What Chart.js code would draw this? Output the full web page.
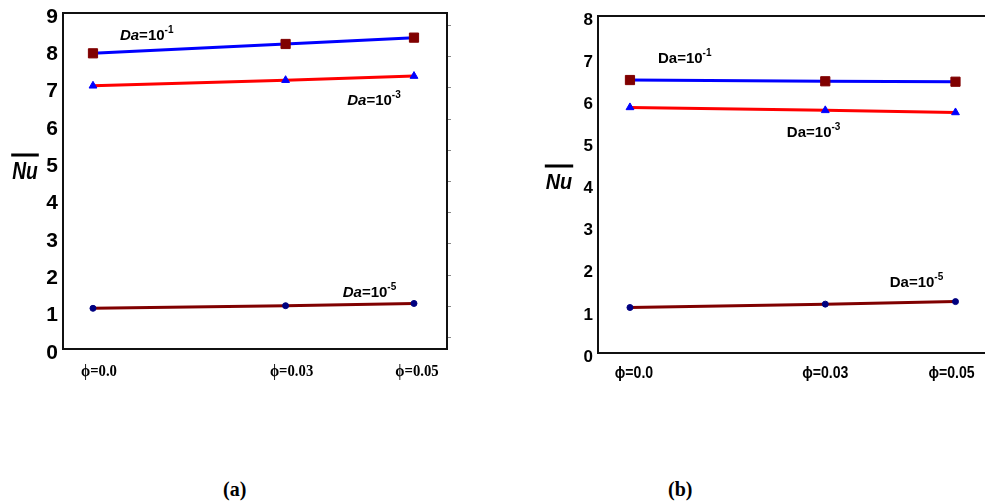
<!DOCTYPE html>
<html>
<head>
<meta charset="utf-8">
<script src="https://cdn.jsdelivr.net/npm/chart.js@4.4.1/dist/chart.umd.min.js"></script>
<style>
  html, body { margin: 0; padding: 0; background: #fff; overflow: hidden; width: 985px; height: 504px; }
  .panel { position: absolute; top: -10px; }
  .cap { position: absolute; top: 478px; font: bold 20px "Liberation Serif", "Times New Roman", serif; color: #000; }
</style>
</head>
<body>
<canvas id="chartA" class="panel" width="470" height="410" style="left:0px"></canvas>
<canvas id="chartB" class="panel" width="510" height="410" style="left:520px"></canvas>
<div class="cap" style="left:223px">(a)</div>
<div class="cap" style="left:668px">(b)</div>
<script>
// Nanofluid volume fraction on the x axis
const phi = [0, 0.03, 0.05];
const phiLabels = ['\u03D5=0.0', '\u03D5=0.03', '\u03D5=0.05'];

// Panel (a): average Nusselt number
const nuA_Da1 = [7.92, 8.17, 8.34];
const nuA_Da3 = [7.05, 7.20, 7.31];
const nuA_Da5 = [1.09, 1.16, 1.22];

// Panel (b): average Nusselt number
const nuB_Da1 = [6.48, 6.45, 6.44];
const nuB_Da3 = [5.83, 5.76, 5.71];
const nuB_Da5 = [1.08, 1.16, 1.22];

// Darcy number exponents for the curve labels
const daExp = ['-1', '-3', '-5'];

Chart.defaults.animation = false;
Chart.defaults.color = '#000';

function pts(ys) { return phi.map((x, i) => ({ x: x, y: ys[i] })); }

function series(ys, lineColor, pointColor, style, radius) {
  return {
    data: pts(ys),
    borderColor: lineColor,
    borderWidth: 3,
    pointStyle: style,
    pointRadius: radius,
    pointBackgroundColor: pointColor,
    pointBorderColor: pointColor,
    pointBorderWidth: 1,
    tension: 0
  };
}

// frame, condensed phi tick labels, curve labels and the axis title
function decorations(opts) {
  return {
    id: 'decor',
    afterDraw(chart) {
      const ctx = chart.ctx, a = chart.chartArea;
      const xs = chart.scales.x, ys = chart.scales.y;
      ctx.save();

      // faint minor ticks just outside the right edge of the frame
      if (opts.rightTicks) {
        const h = a.bottom - a.top;
        ctx.strokeStyle = '#888';
        ctx.lineWidth = 1;
        ctx.beginPath();
        for (let k = 0; k < 11; k++) {
          const y = Math.round(a.top + h * (0.0357 + k * 0.0929)) + 0.5;
          ctx.moveTo(a.right, y);
          ctx.lineTo(a.right + 4, y);
        }
        ctx.stroke();
      }

      ctx.strokeStyle = '#111';
      ctx.lineWidth = 2;
      ctx.beginPath();
      ctx.rect(a.left, a.top, a.right - a.left, a.bottom - a.top);
      ctx.stroke();

      // phi tick labels
      ctx.fillStyle = '#000';
      ctx.font = opts.phiFont;
      ctx.textAlign = 'center';
      ctx.textBaseline = 'middle';
      phi.forEach((v, i) => {
        ctx.save();
        ctx.translate(xs.getPixelForValue(v) + opts.phiShift[i], a.bottom + opts.phiGap);
        ctx.scale(opts.phiSqueeze, 1);
        ctx.fillText(phiLabels[i], 0, 0);
        ctx.restore();
      });

      // Da = 10^n labels
      ctx.textAlign = 'left';
      ctx.textBaseline = 'alphabetic';
      opts.notes.forEach((n, i) => {
        let px = xs.getPixelForValue(n.x);
        const py = ys.getPixelForValue(n.y) + 5;
        ctx.font = (opts.italicDa ? 'italic ' : '') + 'bold 15px "Liberation Sans", Arial, sans-serif';
        ctx.fillText('Da', px, py);
        px += ctx.measureText('Da').width;
        ctx.font = 'bold 15px "Liberation Sans", Arial, sans-serif';
        ctx.fillText('=10', px, py);
        px += ctx.measureText('=10').width;
        ctx.font = 'bold 10px "Liberation Sans", Arial, sans-serif';
        ctx.fillText(daExp[i], px, py - 7);
      });

      // overbarred Nu axis title, slightly condensed
      ctx.font = opts.nuFont;
      ctx.textAlign = 'center';
      ctx.textBaseline = 'middle';
      const w = ctx.measureText('Nu').width * opts.nuSqueeze;
      ctx.save();
      ctx.translate(opts.nuX, opts.nuY);
      ctx.scale(opts.nuSqueeze, 1);
      ctx.fillText('Nu', 0, 0);
      ctx.restore();
      ctx.lineWidth = 3;
      ctx.strokeStyle = '#000';
      ctx.beginPath();
      ctx.moveTo(opts.nuX - w / 2 - 1, opts.nuY - opts.barGap);
      ctx.lineTo(opts.nuX + w / 2 + 1, opts.nuY - opts.barGap);
      ctx.stroke();
      ctx.restore();
    }
  };
}

function makeChart(id, sets, cfg) {
  return new Chart(document.getElementById(id), {
    type: 'line',
    data: { datasets: sets },
    options: {
      responsive: false,
      devicePixelRatio: 1,
      layout: { padding: cfg.padding },
      plugins: { legend: { display: false }, tooltip: { enabled: false } },
      scales: {
        x: {
          type: 'linear',
          min: cfg.xMin, max: cfg.xMax,
          grid: { display: false, drawTicks: false },
          border: { display: false },
          afterBuildTicks: s => { s.ticks = phi.map(v => ({ value: v })); },
          afterFit: s => { s.height = cfg.xHeight; },
          ticks: { display: false }
        },
        y: {
          min: 0, max: cfg.yMax,
          grid: { display: false, drawTicks: false },
          border: { display: false },
          afterFit: s => { s.width = cfg.yWidth; },
          ticks: { stepSize: 1, padding: 5, labelOffset: 4, font: cfg.yFont }
        }
      }
    },
    plugins: [decorations(cfg.decor)]
  });
}

makeChart('chartA', [
  series(nuA_Da1, '#0000ff', '#800000', 'rect', 6.5),
  series(nuA_Da3, '#ff0000', '#0000ff', 'triangle', 4.5),
  series(nuA_Da5, '#800000', '#000080', 'circle', 3)
], {
  padding: { top: 23, right: 23, left: 0, bottom: 0 },
  xMin: -0.00467, xMax: 0.05514, xHeight: 51, yWidth: 63, yMax: 9,
  yFont: { family: '"Liberation Sans", Arial, sans-serif', weight: 'bold', size: 21 },
  decor: {
    italicDa: true,
    rightTicks: true,
    phiFont: 'bold 16px "Liberation Serif", "Times New Roman", serif',
    phiShift: [6, 6, 3], phiGap: 23, phiSqueeze: 0.92,
    notes: [{ x: 0.0042, y: 8.41 }, { x: 0.0396, y: 6.67 }, { x: 0.0389, y: 1.53 }],
    nuFont: 'italic bold 24px "Liberation Sans", Arial, sans-serif',
    nuX: 25, nuY: 182, barGap: 17, nuSqueeze: 0.8
  }
});

makeChart('chartB', [
  series(nuB_Da1, '#0000ff', '#800000', 'rect', 6.5),
  series(nuB_Da3, '#ff0000', '#0000ff', 'triangle', 4.5),
  series(nuB_Da5, '#800000', '#000080', 'circle', 3)
], {
  padding: { top: 26, right: 40, left: 0, bottom: 0 },
  xMin: -0.00491, xMax: 0.0553, xHeight: 47, yWidth: 78, yMax: 8,
  yFont: { family: '"Liberation Sans", Arial, sans-serif', weight: 'bold', size: 17 },
  decor: {
    italicDa: false,
    rightTicks: false,
    phiFont: 'bold 16px "Liberation Sans", Arial, sans-serif',
    phiShift: [4, 0, -4], phiGap: 21, phiSqueeze: 0.88,
    notes: [{ x: 0.0043, y: 7.0 }, { x: 0.0241, y: 5.24 }, { x: 0.0399, y: 1.68 }],
    nuFont: 'italic bold 22px "Liberation Sans", Arial, sans-serif',
    nuX: 39, nuY: 193, barGap: 17, nuSqueeze: 0.9
  }
});
</script>
</body>
</html>
